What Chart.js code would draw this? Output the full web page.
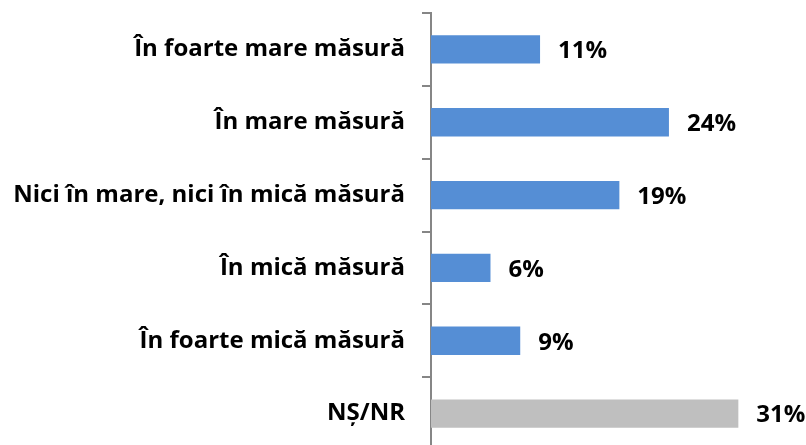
<!DOCTYPE html>
<html>
<head>
<meta charset="utf-8">
<script src="https://cdn.jsdelivr.net/npm/chart.js@4"></script>
<style>
  html, body { margin: 0; padding: 0; background: #fff; overflow: hidden; }
  #wrap { width: 806px; height: 445px; overflow: hidden; }
</style>
</head>
<body>
<div id="wrap"><canvas id="grafic" width="806" height="450"></canvas></div>
<script>
// date
const categorii = [
    'În foarte mare măsură',
    'În mare măsură',
    'Nici în mare, nici în mică măsură',
    'În mică măsură',
    'În foarte mică măsură',
    'NȘ/NR'
];
const procente = [11, 24, 19, 6, 9, 31];
const culori = ['#558ED5', '#558ED5', '#558ED5', '#558ED5', '#558ED5', '#BFBFBF'];

const fontText = '"Open Sans", sans-serif';

// eticheta cu procentul la capatul fiecarei bare
const eticheteValori = {
    id: 'eticheteValori',
    afterDatasetsDraw(chart) {
        const ctx = chart.ctx;
        const meta = chart.getDatasetMeta(0);
        ctx.save();
        ctx.font = 'bold 24px ' + fontText;
        ctx.fillStyle = '#000';
        ctx.textBaseline = 'middle';
        ctx.textAlign = 'left';
        meta.data.forEach(function(bar, i) {
            ctx.fillText(procente[i] + '%', bar.x + 18, bar.y + 2);
        });
        ctx.restore();
    }
};

new Chart(document.getElementById('grafic'), {
    type: 'bar',
    data: {
        labels: categorii,
        datasets: [{
            data: procente,
            backgroundColor: culori,
            borderWidth: 0,
            categoryPercentage: 1,
            barPercentage: 0.39
        }]
    },
    options: {
        indexAxis: 'y',
        responsive: false,
        animation: false,
        layout: { padding: { top: 13, right: 28, bottom: 0, left: 0 } },
        plugins: {
            legend: { display: false },
            tooltip: { enabled: false }
        },
        scales: {
            x: {
                display: false,
                min: 0,
                max: 35
            },
            y: {
                afterFit: function(scale) {
                    scale.width = 431;
                    scale.paddingTop = 0;
                    scale.paddingBottom = 0;
                },
                border: { color: '#868686', width: 2 },
                grid: {
                    drawOnChartArea: false,
                    offset: true,
                    tickLength: 9,
                    color: '#868686',
                    lineWidth: 2
                },
                ticks: {
                    color: '#000',
                    padding: 17,
                    font: { family: fontText, size: 24, weight: 'bold' }
                }
            }
        }
    },
    plugins: [eticheteValori]
});
</script>
</body>
</html>
